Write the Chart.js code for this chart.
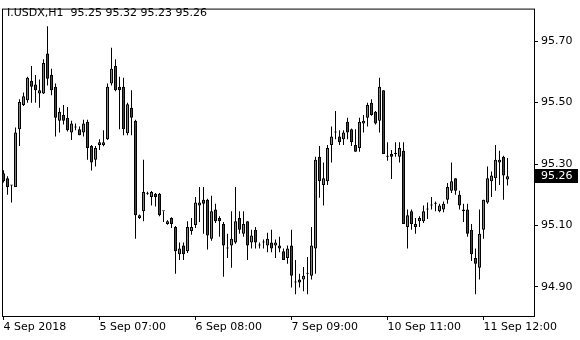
<!DOCTYPE html>
<html>
<head>
    <title>I.USDX,H1</title>
    <script src="https://cdn.jsdelivr.net/npm/chart.js"></script>
    <style>
        body {
            margin: 0;
            padding: 0;
            background: #ffffff;
            overflow: hidden;
        }
        #wrap {
            width: 580px;
            height: 340px;
        }
    </style>
</head>
<body>
    <div id="wrap">
        <canvas id="myChart" width="580" height="340"></canvas>
    </div>

    <script>
        // Hourly candles, 4 Sep 2018 -> 11 Sep 2018
        const opens = [
            95.270, 95.254, 95.230, 95.225, 95.413, 95.492, 95.508, 95.571, 95.559, 95.530,
            95.530, 95.660, 95.590, 95.552, 95.441, 95.460, 95.451, 95.403, 95.419, 95.413,
            95.403, 95.438, 95.359, 95.314, 95.362, 95.362, 95.381, 95.562, 95.619, 95.552,
            95.552, 95.400, 95.483, 95.441, 95.124, 95.146, 95.203, 95.193, 95.203, 95.203,
            95.146, 95.105, 95.124, 95.095, 95.006, 95.035, 95.016, 95.082, 95.101, 95.165,
            95.184, 95.184, 95.057, 95.152, 95.124, 95.105, 95.025, 95.035, 95.044, 95.124,
            95.073, 95.114, 95.044, 95.086, 95.035, 95.044, 95.035, 95.044, 95.035, 95.035,
            95.016, 94.994, 95.035, 94.914, 94.924, 94.924, 94.943, 94.936, 95.025, 95.324,
            95.232, 95.244, 95.362, 95.403, 95.390, 95.381, 95.438, 95.413, 95.362, 95.352,
            95.432, 95.451, 95.500, 95.470, 95.441, 95.540, 95.324, 95.333, 95.333, 95.324,
            95.343, 95.095, 95.146, 95.095, 95.114, 95.114, 95.152, 95.165, 95.171, 95.146,
            95.152, 95.184, 95.213, 95.254, 95.200, 95.152, 95.152, 95.086, 94.994, 94.962,
            95.086, 95.175, 95.244, 95.254, 95.305, 95.324, 95.250
        ];
        const highs = [
            95.280, 95.260, 95.232, 95.419, 95.511, 95.533, 95.584, 95.619, 95.590, 95.575,
            95.641, 95.749, 95.610, 95.562, 95.483, 95.492, 95.486, 95.441, 95.432, 95.422,
            95.444, 95.444, 95.362, 95.359, 95.381, 95.410, 95.562, 95.679, 95.641, 95.584,
            95.581, 95.500, 95.540, 95.444, 95.136, 95.314, 95.210, 95.212, 95.206, 95.206,
            95.146, 95.117, 95.127, 95.098, 95.044, 95.044, 95.114, 95.124, 95.193, 95.225,
            95.225, 95.187, 95.197, 95.171, 95.130, 95.111, 95.073, 95.146, 95.225, 95.146,
            95.146, 95.114, 95.086, 95.095, 95.044, 95.054, 95.076, 95.086, 95.054, 95.063,
            95.025, 95.035, 95.086, 94.987, 94.943, 94.965, 94.997, 95.095, 95.324, 95.359,
            95.305, 95.362, 95.422, 95.473, 95.410, 95.410, 95.451, 95.416, 95.413, 95.451,
            95.460, 95.500, 95.511, 95.473, 95.581, 95.540, 95.371, 95.346, 95.371, 95.371,
            95.371, 95.152, 95.152, 95.124, 95.130, 95.165, 95.175, 95.193, 95.178, 95.171,
            95.178, 95.238, 95.305, 95.254, 95.213, 95.171, 95.171, 95.105, 95.025, 95.152,
            95.184, 95.292, 95.276, 95.362, 95.343, 95.327, 95.320
        ];
        const lows = [
            95.240, 95.200, 95.175, 95.225, 95.359, 95.489, 95.500, 95.500, 95.500, 95.483,
            95.528, 95.556, 95.524, 95.390, 95.403, 95.429, 95.406, 95.378, 95.410, 95.394,
            95.390, 95.314, 95.279, 95.292, 95.346, 95.358, 95.378, 95.556, 95.537, 95.413,
            95.394, 95.394, 95.394, 95.057, 95.121, 95.114, 95.200, 95.165, 95.162, 95.130,
            95.111, 95.102, 95.092, 94.943, 94.987, 94.987, 95.010, 95.070, 95.092, 95.111,
            95.073, 95.022, 95.050, 95.108, 95.063, 94.933, 94.994, 94.962, 95.040, 95.073,
            95.063, 94.987, 95.025, 95.025, 95.025, 95.025, 95.013, 95.013, 94.994, 95.013,
            94.987, 94.975, 94.898, 94.876, 94.898, 94.886, 94.876, 94.924, 94.943, 95.190,
            95.165, 95.232, 95.305, 95.381, 95.362, 95.362, 95.381, 95.359, 95.340, 95.340,
            95.403, 95.422, 95.457, 95.429, 95.403, 95.333, 95.311, 95.251, 95.324, 95.305,
            95.105, 95.025, 95.086, 95.073, 95.095, 95.108, 95.121, 95.152, 95.146, 95.143,
            95.143, 95.171, 95.206, 95.200, 95.152, 95.111, 95.063, 94.984, 94.876, 94.924,
            95.057, 95.171, 95.193, 95.213, 95.232, 95.184, 95.230
        ];
        const closes = [
            95.244, 95.225, 95.230, 95.403, 95.502, 95.521, 95.581, 95.552, 95.540, 95.540,
            95.629, 95.578, 95.540, 95.451, 95.470, 95.441, 95.410, 95.432, 95.419, 95.394,
            95.432, 95.352, 95.305, 95.352, 95.371, 95.371, 95.552, 95.610, 95.540, 95.540,
            95.413, 95.495, 95.451, 95.133, 95.133, 95.209, 95.203, 95.209, 95.193, 95.133,
            95.146, 95.114, 95.105, 95.016, 95.025, 95.006, 95.095, 95.095, 95.175, 95.175,
            95.171, 95.067, 95.146, 95.114, 95.114, 95.035, 95.025, 95.057, 95.114, 95.086,
            95.105, 95.035, 95.067, 95.044, 95.035, 95.044, 95.057, 95.025, 95.044, 95.025,
            94.987, 95.025, 94.936, 94.914, 94.914, 94.936, 94.943, 95.035, 95.314, 95.244,
            95.254, 95.352, 95.390, 95.403, 95.371, 95.403, 95.403, 95.371, 95.340, 95.438,
            95.441, 95.492, 95.460, 95.432, 95.552, 95.333, 95.324, 95.324, 95.333, 95.352,
            95.105, 95.133, 95.105, 95.105, 95.124, 95.146, 95.152, 95.165, 95.171, 95.165,
            95.171, 95.225, 95.244, 95.213, 95.165, 95.146, 95.073, 95.006, 94.975, 95.073,
            95.184, 95.254, 95.263, 95.314, 95.314, 95.263, 95.260
        ];

        const tickLabels = ['4 Sep 2018', '5 Sep 07:00', '6 Sep 08:00', '7 Sep 09:00', '10 Sep 11:00', '11 Sep 12:00'];
        const tickEvery = 24;
        const priceTicks = [94.90, 95.10, 95.30, 95.50, 95.70];
        const titleText = 'I.USDX,H1  95.25 95.32 95.23 95.26';

        const UP = '#1ec41e';
        const DOWN = '#e60000';

        const bodies = opens.map((o, i) => ({ x: i, y: [o, closes[i]] }));
        const wicks = lows.map((l, i) => ({ x: i, y: [l, highs[i]] }));
        const bodyColors = opens.map((o, i) => closes[i] > o ? UP : (closes[i] < o ? DOWN : '#000000'));

        Chart.defaults.font.family = '"DejaVu Sans", Verdana, sans-serif';
        Chart.defaults.font.size = 11;
        Chart.defaults.color = '#000000';

        // frame, header text and current price box
        const mtDecor = {
            id: 'mtDecor',
            afterDraw(chart) {
                const c = chart.ctx;
                const a = chart.chartArea;
                c.save();
                c.strokeStyle = '#000000';
                c.lineWidth = 1;
                c.strokeRect(a.left - 0.5, a.top - 0.5, a.right - a.left + 1, a.bottom - a.top + 1);

                c.fillStyle = '#000000';
                c.font = '11px "DejaVu Sans", Verdana, sans-serif';
                c.textBaseline = 'alphabetic';
                c.textAlign = 'left';
                c.fillText(titleText, 7, 16);

                const last = closes[closes.length - 1];
                const yp = Math.round(chart.scales.y.getPixelForValue(last));
                c.fillStyle = '#000000';
                c.fillRect(a.right, yp - 7, 44, 14);
                c.fillStyle = '#ffffff';
                c.textBaseline = 'middle';
                c.fillText(last.toFixed(2), a.right + 7, yp);
                c.restore();
            }
        };

        new Chart(document.getElementById('myChart'), {
            type: 'bar',
            data: {
                datasets: [
                    {
                        data: wicks,
                        backgroundColor: '#000000',
                        borderWidth: 0,
                        barThickness: 1,
                        grouped: false,
                        inflateAmount: 0,
                        order: 2
                    },
                    {
                        data: bodies,
                        backgroundColor: bodyColors,
                        borderColor: '#000000',
                        borderWidth: 1,
                        borderSkipped: false,
                        barThickness: 3,
                        minBarLength: 1,
                        grouped: false,
                        inflateAmount: 0,
                        order: 1
                    }
                ]
            },
            options: {
                responsive: false,
                animation: false,
                events: [],
                layout: { padding: { left: 3, top: 2, right: 0, bottom: 0 } },
                plugins: {
                    legend: { display: false },
                    tooltip: { enabled: false }
                },
                scales: {
                    x: {
                        type: 'linear',
                        offset: false,
                        min: -0.125,
                        max: 132.625,
                        border: { display: false },
                        grid: { offset: false, drawOnChartArea: false, drawTicks: true, tickLength: 4, color: '#000000' },
                        afterBuildTicks: (s) => {
                            s.ticks = tickLabels.map((t, k) => ({ value: k * tickEvery }));
                        },
                        afterFit: (s) => { s.height = 24; },
                        ticks: {
                            align: 'start',
                            maxRotation: 0,
                            autoSkip: false,
                            padding: 1,
                            color: '#000000',
                            callback: (v, idx) => tickLabels[idx]
                        }
                    },
                    y: {
                        position: 'right',
                        min: 94.805,
                        max: 95.803,
                        border: { display: false },
                        grid: { drawOnChartArea: false, drawTicks: true, tickLength: 4, color: '#000000' },
                        afterBuildTicks: (s) => {
                            s.ticks = priceTicks.map(v => ({ value: v }));
                        },
                        afterFit: (s) => { s.width = 46; },
                        ticks: {
                            padding: 3,
                            color: '#000000',
                            callback: (v) => Number(v).toFixed(2)
                        }
                    }
                }
            },
            plugins: [mtDecor]
        });
    </script>
</body>
</html>
